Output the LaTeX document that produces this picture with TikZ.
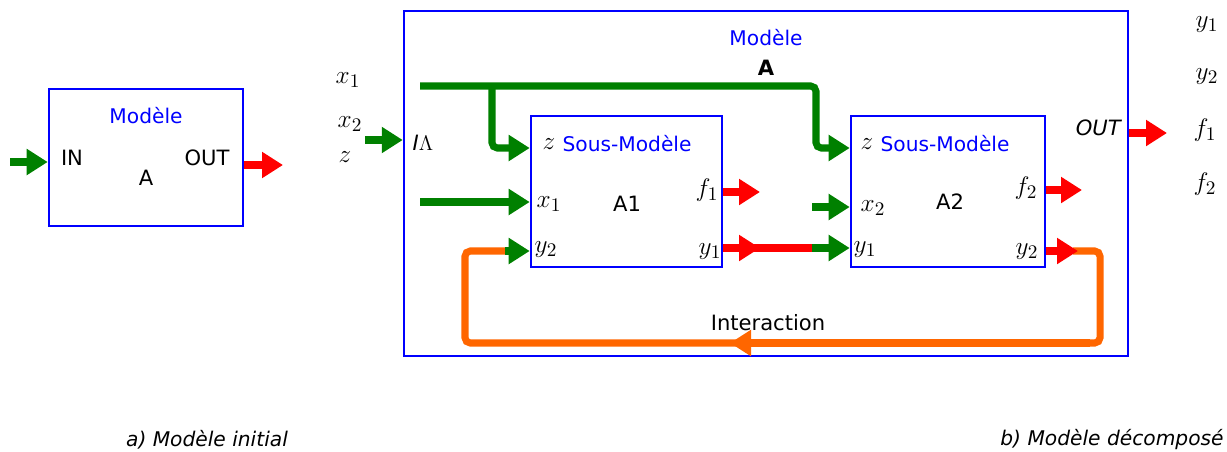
\documentclass[tikz,border=0pt]{standalone}
\usepackage{fontspec}
\setmainfont{DejaVu Sans}
\usepackage{tikz}
\usetikzlibrary{arrows.meta, positioning}
\definecolor{dgreen}{RGB}{0,128,0}
\definecolor{lorange}{RGB}{255,102,0}

\begin{document}
\begin{tikzpicture}[x=0.02cm, y=-0.02cm,
  modbox/.style={rectangle, draw=blue, line width=1.5pt, inner sep=0pt},
  subbox/.style={modbox, minimum width=3.82cm, minimum height=3.02cm},
  title/.style={font=\fontsize{11.5}{13}\selectfont, text=blue},
  lbl/.style={font=\fontsize{12}{14}\selectfont},
  var/.style={font=\fontsize{15}{17}\selectfont},
  caption/.style={font=\fontsize{11.5}{13}\selectfont\itshape},
  garr/.style={-{Triangle[length=0.42cm, width=0.5cm]}, line width=4pt, draw=dgreen},
  rarr/.style={-{Triangle[length=0.42cm, width=0.5cm]}, line width=4pt, draw=red},
  oarr/.style={-{Triangle[length=0.42cm, width=0.5cm]}, line width=4pt, draw=lorange},
  rline/.style={line width=4pt, draw=red},
  oline/.style={line width=4pt, draw=lorange, rounded corners=3pt}
]
\useasboundingbox (0,0) rectangle (1227,451);

% Nodes
\node[modbox, minimum width=3.88cm, minimum height=2.74cm] (ma) at (146,157.5) {};
\node[title] (ma-t) at (146,116) {Modèle};
\node[lbl] (ma-in) at (72,158) {IN};
\node[lbl] (ma-a) at (146,178) {A};
\node[lbl] (ma-out) at (207,158) {OUT};
\node[caption] (cap-a) at (207,440) {a) Modèle initial};

\node[modbox, minimum width=14.48cm, minimum height=6.9cm] (mb) at (766,183.5) {};
\node[title] (mb-t) at (766,38) {Modèle};
\node[lbl, font=\fontsize{12}{14}\selectfont\bfseries] (mb-a) at (766,68) {A};
\node[var] (mb-x1) at (348,80) {$x_1$};
\node[var] (mb-x2) at (350,124) {$x_2$};
\node[var] (mb-z) at (345,157) {$z$};
\node[lbl] (mb-in) at (423,143) {\textit{I}$\Lambda$};
\node[lbl] (mb-out) at (1099,128) {\textit{OUT}};
\node[var] (o-y1) at (1207,25) {$y_1$};
\node[var] (o-y2) at (1207,77) {$y_2$};
\node[var] (o-f1) at (1205,130) {$f_1$};
\node[var] (o-f2) at (1205,184) {$f_2$};
\node[lbl] (inter) at (768,323) {Interaction};
\node[caption] (cap-b) at (1112,440) {b) Modèle décomposé};

\node[subbox] (s1) at (626.5,191.5) {};
\node[var] (s1-z) at (549,144) {$z$};
\node[title] (s1-t) at (627,144) {Sous-Modèle};
\node[var] (s1-x1) at (549,204) {$x_1$};
\node[lbl] (s1-a) at (627,204) {A1};
\node[var] (s1-f1) at (707,190) {$f_1$};
\node[var] (s1-y2) at (546,250) {$y_2$};
\node[var] (s1-y1) at (710,252) {$y_1$};

\node[subbox, minimum width=3.88cm] (s2) at (948,191.5) {};
\node[var] (s2-z) at (867,144) {$z$};
\node[title] (s2-t) at (945,144) {Sous-Modèle};
\node[var] (s2-x2) at (873,208) {$x_2$};
\node[lbl] (s2-a) at (950,202) {A2};
\node[var] (s2-f2) at (1026,188) {$f_2$};
\node[var] (s2-y1) at (865,250) {$y_1$};
\node[var] (s2-y2) at (1027,252) {$y_2$};

% Coordinates
\coordinate (a-src) at (10,162);
\coordinate (a-dst) at (283,165);
\coordinate (b-src) at (365,140);
\coordinate (b-dst) at (1167,133);
\coordinate (bus) at (420,86);
\coordinate (br) at (492,86);
\coordinate (z-in) at (816,148);
\coordinate (x1-src) at (420,202);
\coordinate (f1-dst) at (760,192);
\coordinate (y1-tip) at (760,248);
\coordinate (y1-mid) at (812,248);
\coordinate (x2-src) at (812,207);
\coordinate (f2-dst) at (1082,190);
\coordinate (y2-tip) at (1078,251);
\coordinate (y2-o) at (1073,251);
\coordinate (lp-r) at (1100,343);
\coordinate (lp-l) at (465,343);
\coordinate (lp-end) at (505,251);
\coordinate (o-src) at (1090,343);
\coordinate (o-tip) at (730,343);

% Arrows
\draw[garr] (a-src) -- (a-src -| ma.west);
\draw[rarr] (ma.east |- a-dst) -- (a-dst);
\draw[garr] (b-src) -- (b-src -| mb.west);
\draw[rarr] (mb.east |- b-dst) -- (b-dst);

\draw[garr, rounded corners=3pt] (bus) -| (z-in) -- (z-in -| s2.west);
\draw[garr, rounded corners=3pt] (br) |- (s1.west |- z-in);
\draw[garr] (x1-src) -- (x1-src -| s1.west);
\draw[rarr] (s1.east |- f1-dst) -- (f1-dst);
\draw[rline] (s1.east |- y1-mid) -- (y1-mid);
\draw[rarr] (s1.east |- y1-tip) -- (y1-tip);
\draw[garr] (y1-mid) -- (y1-mid -| s2.west);
\draw[garr] (x2-src) -- (x2-src -| s2.west);
\draw[rarr] (s2.east |- f2-dst) -- (f2-dst);

\draw[oline] (y2-o) -| (lp-r) -- (lp-l) |- (lp-end);
\draw[oarr] (o-src) -- (o-tip);
\draw[rarr] (s2.east |- y2-tip) -- (y2-tip);
\draw[garr] (lp-end) -- (lp-end -| s1.west);

\end{tikzpicture}
\end{document}
